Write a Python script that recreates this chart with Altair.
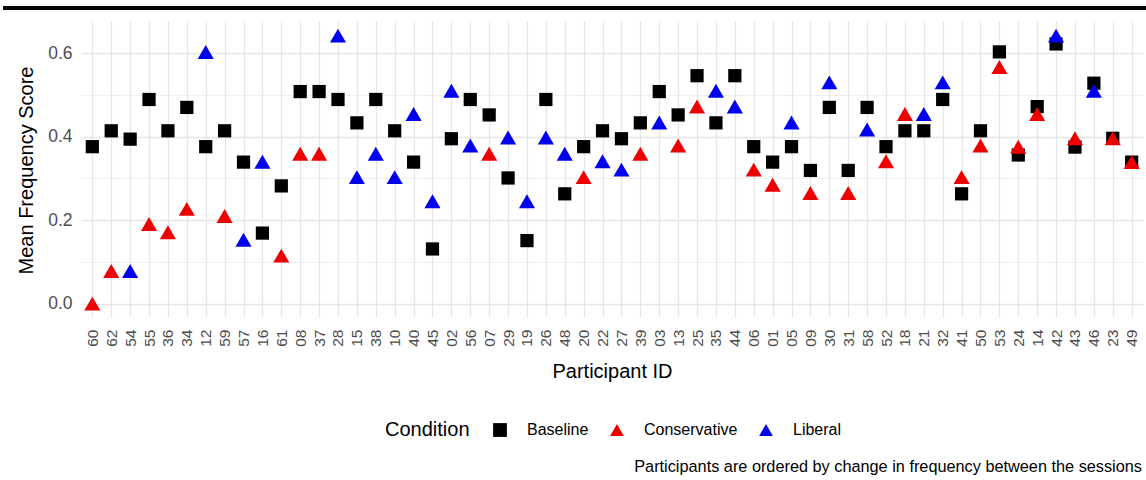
import altair as alt
import pandas as pd

participants = ["60","62","54","55","36","34","12","59","57","16","61","08","37","28",
                "15","38","10","40","45","02","56","07","29","19","26","48","20","22","27",
                "39","03","13","25","35","44","06","01","05","09","30","31","58","52","18",
                "21","32","41","50","53","24","14","42","43","46","23","49"]

baseline = [0.376,0.414,0.394,0.489,0.414,0.470,0.376,0.414,0.339,0.169,
            0.282,0.508,0.508,0.489,0.433,0.489,0.414,0.339,0.131,0.395,
            0.489,0.452,0.301,0.151,0.489,0.263,0.376,0.414,0.395,0.433,
            0.508,0.452,0.546,0.433,0.546,0.376,0.339,0.376,0.319,0.470,
            0.319,0.470,0.376,0.414,0.414,0.489,0.263,0.414,0.603,0.356,
            0.472,0.622,0.375,0.528,0.396,0.339]

session = [0.000,0.078,0.078,0.191,0.171,0.227,0.603,0.210,0.153,0.340,
           0.115,0.359,0.359,0.642,0.303,0.359,0.303,0.454,0.245,0.510,
           0.379,0.359,0.398,0.245,0.398,0.359,0.303,0.341,0.321,0.359,
           0.434,0.379,0.472,0.510,0.472,0.321,0.285,0.434,0.265,0.530,
           0.265,0.417,0.341,0.454,0.454,0.530,0.303,0.379,0.567,0.376,
           0.454,0.642,0.396,0.510,0.396,0.339]

C, L = "Conservative", "Liberal"
session_condition = [C,C,L,C,C,C,L,C,L,L,
                     C,C,C,L,L,L,L,L,L,L,
                     L,C,L,L,L,L,C,L,L,C,
                     L,C,C,L,L,C,C,L,C,L,
                     C,L,C,C,L,L,C,C,C,C,
                     C,L,C,L,C,C]

conditions = ["Baseline", "Conservative", "Liberal"]
cond_colors = ["#000000", "#EE0000", "#0000EE"]
cond_shapes = ["square", "triangle-up", "triangle-up"]
y_ticks = [0.0, 0.1, 0.2, 0.3, 0.4, 0.5, 0.6]
caption = "Participants are ordered by change in frequency between the sessions"

base_df = pd.DataFrame({"Participant": participants, "Score": baseline,
                        "Condition": ["Baseline"] * len(participants)})
sess_df = pd.DataFrame({"Participant": participants, "Score": session,
                        "Condition": session_condition})

W, H = 1062, 296
FONT = "Liberation Sans"

legend = alt.Legend(orient="none", legendX=304, legendY=401, direction="horizontal",
                    titleOrient="left", titleFontSize=20, titleFontWeight="normal",
                    titleColor="black", titlePadding=22, titleBaseline="middle",
                    labelFontSize=16, labelColor="black", labelOffset=19,
                    columnPadding=20, symbolSize=190, symbolStrokeWidth=0)

x_enc = alt.X("Participant:N", sort=participants,
              scale=alt.Scale(type="point", padding=0.6),
              axis=alt.Axis(title="Participant ID", labelAngle=270, labelAlign="right",
                            labelBaseline="middle", labelPadding=12, tickSize=0,
                            ticks=False, domain=False, grid=True, labelFontSize=15.5,
                            titleX=W / 2, titleY=60, titleAlign="center",
                            titleBaseline="alphabetic"))

y_enc = alt.Y("Score:Q",
              scale=alt.Scale(domain=[-0.032, 0.677], nice=False, zero=False),
              axis=alt.Axis(title="Mean Frequency Score", values=y_ticks, labelFontSize=17.5,
                            labelExpr="round(datum.value*10) % 2 == 0 ? format(datum.value, '.1f') : ''",
                            gridWidth={"condition": {"test": "round(datum.value*10) % 2 == 1",
                                                     "value": 0.7}, "value": 1.3},
                            ticks=False, tickSize=0, domain=False, labelPadding=9,
                            titleAngle=270, titleX=-48.5, titleY=H / 2 + 1,
                            titleAlign="center", titleBaseline="alphabetic"))

color_enc = alt.Color("Condition:N", scale=alt.Scale(domain=conditions, range=cond_colors),
                      legend=legend)
shape_enc = alt.Shape("Condition:N", scale=alt.Scale(domain=conditions, range=cond_shapes),
                      legend=legend)

squares = alt.Chart(base_df).mark_point(filled=True, opacity=1, size=175).encode(
    x=x_enc, y=y_enc, color=color_enc, shape=shape_enc)

triangles = alt.Chart(sess_df).mark_point(filled=True, opacity=1, size=260).encode(
    x=x_enc, y=y_enc, color=color_enc, shape=shape_enc)

cap = alt.Chart(pd.DataFrame({"t": [caption]})).mark_text(
    align="right", baseline="middle", fontSize=16.3, font=FONT, color="black").encode(
    x=alt.value(W - 1), y=alt.value(446), text="t:N")

topline = alt.Chart(pd.DataFrame({"a": [0]})).mark_rule(color="black", strokeWidth=4).encode(
    x=alt.value(-78), x2=alt.value(1065), y=alt.value(-13))

chart = alt.layer(squares, triangles, cap, topline).properties(
    width=W, height=H,
    autosize=alt.AutoSizeParams(type="none"),
    padding={"left": 81, "top": 21, "right": 3, "bottom": 163},
).configure(font=FONT, background="white").configure_view(strokeWidth=0).configure_axis(
    gridColor="#E6E6E6", gridWidth=1.3, labelColor="#4D4D4D",
    titleFontSize=20, titleFontWeight="normal", titleColor="black", labelFont=FONT,
    titleFont=FONT)

chart.save("out.html", embed_options={"renderer": "svg", "actions": False})
